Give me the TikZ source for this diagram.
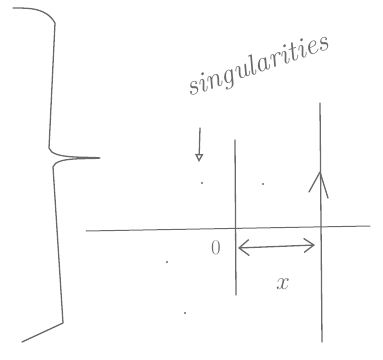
\documentclass[tikz,border=0pt]{standalone}
\usetikzlibrary{arrows.meta}
\definecolor{pen}{RGB}{105,105,105}
\begin{document}
\begin{tikzpicture}[x=1bp,y=-1bp,
  ink/.style={draw=pen,line width=1.3bp,line cap=round,line join=round},
  spot/.style={circle,fill=pen,inner sep=0pt,minimum size=2.4bp},
  lbl/.style={text=pen,inner sep=0pt}]
\useasboundingbox (0,0) rectangle (383,360);
% brace
\coordinate (b1) at (13,8);
\coordinate (b2) at (55,23);
\coordinate (b3) at (49,148);
\coordinate (tip) at (100,158);
\coordinate (b4) at (53,167);
\coordinate (b5) at (63,323);
\coordinate (b6) at (22,342);
\draw[ink] (b1) to[out=0,in=120] (b2) -- (b3) to[out=-75,in=172,looseness=0.6] (tip) to[out=188,in=75,looseness=0.6] (b4) -- (b5) -- (b6);
% axes
\coordinate (axL) at (86,231);
\coordinate (axR) at (370,226);
\draw[ink,line width=1.0bp] (axL) -- (axR);
\coordinate (v1t) at (235,140);
\coordinate (v1b) at (236,295);
\draw[ink] (v1t) -- (v1b);
\coordinate (v2t) at (320,103);
\coordinate (v2b) at (322,342);
\draw[ink] (v2t) -- (v2b);
% contour direction mark
\coordinate (m1) at (309,192);
\coordinate (m2) at (320,172);
\coordinate (m3) at (328,198);
\draw[ink] (m1) -- (m2) -- (m3);
% width arrow
\coordinate (w1) at (238,248);
\coordinate (w2) at (315,245);
\draw[ink,{Straight Barb[length=10bp,width=16bp]}-{Straight Barb[length=10bp,width=14bp]}] (w1) -- (w2);
% labels
\node[lbl,font=\fontsize{21}{21}\selectfont] (zero) at (216,248) {0};
\node[lbl,font=\fontsize{30}{30}\selectfont] (xl) at (283,284) {$x$};
\node[lbl,rotate=19,font=\fontsize{29}{29}\selectfont\itshape] (sing) at (258,66) {singularities};
% down arrow
\coordinate (d1) at (200,128);
\coordinate (d2) at (199,162);
\draw[ink,-{Triangle[open,length=8bp,width=8bp]}] (d1) -- (d2);
% singular points
\node[spot] (p1) at (202,183) {};
\node[spot] (p2) at (263,184) {};
\node[spot] (p3) at (167,262) {};
\node[spot] (p4) at (185,313) {};
\end{tikzpicture}
\end{document}
